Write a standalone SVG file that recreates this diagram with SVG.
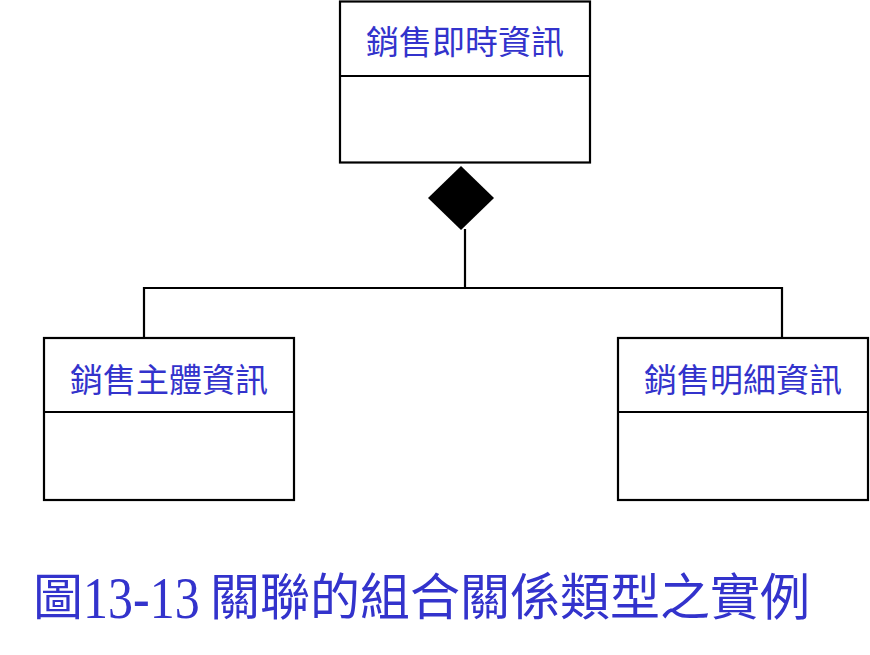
<svg xmlns="http://www.w3.org/2000/svg" width="870" height="655" viewBox="0 0 870 655">
<style>
.box{fill:#ffffff;stroke:#000000;stroke-width:2.2}
.div{stroke:#000000;stroke-width:2.2}
.lbl{font-family:"Noto Sans CJK TC","Noto Sans CJK SC",sans-serif;font-size:33px;fill:#3333cc;text-anchor:middle}
.conn{fill:none;stroke:#000000;stroke-width:2.2}
.cap{font-family:"Liberation Serif","Noto Sans CJK TC",serif;font-size:50px;fill:#3333cc}
.capc{font-family:"Noto Sans CJK TC","Noto Sans CJK SC",sans-serif;font-size:50px;fill:#3333cc}
</style>
<rect width="870" height="655" fill="#ffffff"/>
<g id="connectors">
<polygon points="461,166 494,198 461,230 428,198" fill="#000000"/>
<polyline class="conn" points="465,229 465,288"/>
<polyline class="conn" points="144,338 144,288 782,288 782,338"/>
</g>
<g id="node-realtime">
<rect class="box" x="340" y="1.5" width="250" height="161"/>
<line class="div" x1="340" y1="76" x2="590" y2="76"/>
<text class="lbl" x="465" y="54">銷售即時資訊</text>
</g>
<g id="node-main">
<rect class="box" x="44" y="338" width="250" height="162"/>
<line class="div" x1="44" y1="412" x2="294" y2="412"/>
<text class="lbl" x="169" y="392">銷售主體資訊</text>
</g>
<g id="node-detail">
<rect class="box" x="618" y="338" width="250" height="162"/>
<line class="div" x1="618" y1="412" x2="868" y2="412"/>
<text class="lbl" x="743" y="392">銷售明細資訊</text>
</g>
<g id="caption">
<text class="capc" x="33" y="615">圖</text>
<text class="cap" x="83" y="0" transform="translate(0,618) scale(1,1.2)">13-13</text>
<text class="capc" x="210" y="615">關聯的組合關係類型之實例</text>
</g>
</svg>
